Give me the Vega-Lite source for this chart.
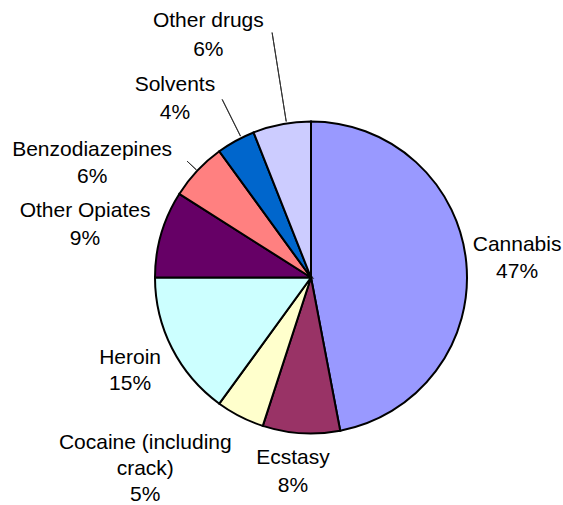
{
  "$schema": "https://vega.github.io/schema/vega-lite/v6.json",
  "description": "Share of drug types, pie chart with labels",
  "width": 504,
  "height": 455,
  "autosize": "none",
  "padding": {"left": 59, "top": 50, "right": 0, "bottom": 0},
  "background": "white",
  "config": {"view": {"stroke": null}},
  "data": {
    "values": [
      {"drug": "Cannabis", "share": 47},
      {"drug": "Ecstasy", "share": 8},
      {"drug": "Cocaine (including crack)", "share": 5},
      {"drug": "Heroin", "share": 15},
      {"drug": "Other Opiates", "share": 9},
      {"drug": "Benzodiazepines", "share": 6},
      {"drug": "Solvents", "share": 4},
      {"drug": "Other drugs", "share": 6}
    ]
  },
  "transform": [
    {"window": [{"op": "row_number", "as": "idx"}]},
    {"calculate": "replace(datum.drug, '(including ', '(including\\n') + '\\n' + datum.share + '%'", "as": "label"}
  ],
  "encoding": {
    "theta": {"field": "share", "type": "quantitative", "stack": true},
    "order": {"field": "idx", "type": "quantitative"}
  },
  "layer": [
    {
      "mark": {"type": "arc", "outerRadius": 156, "stroke": "#000", "strokeWidth": 2},
      "encoding": {
        "color": {
          "field": "drug",
          "type": "nominal",
          "legend": null,
          "scale": {
            "domain": ["Cannabis", "Ecstasy", "Cocaine (including crack)", "Heroin", "Other Opiates", "Benzodiazepines", "Solvents", "Other drugs"],
            "range": ["#9999FF", "#993366", "#FFFFCC", "#CCFFFF", "#660066", "#FF8080", "#0066CC", "#CCCCFF"]
          }
        }
      }
    },
    {
      "mark": {"type": "arc", "filled": false, "stroke": "#333", "strokeWidth": 1, "innerRadius": 158, "outerRadius": 248, "padAngle": 0.6, "thetaOffset": 0.031},
      "encoding": {"opacity": {"condition": {"test": "datum.drug === 'Other drugs'", "value": 1}, "value": 0}}
    },
    {
      "mark": {"type": "arc", "filled": false, "stroke": "#333", "strokeWidth": 1, "innerRadius": 158, "outerRadius": 199, "padAngle": 0.6, "thetaOffset": 0.04},
      "encoding": {"opacity": {"condition": {"test": "datum.drug === 'Solvents'", "value": 1}, "value": 0}}
    },
    {
      "mark": {"type": "arc", "filled": false, "stroke": "#333", "strokeWidth": 1, "innerRadius": 157, "outerRadius": 170, "padAngle": 0.6},
      "encoding": {"opacity": {"condition": {"test": "datum.drug === 'Benzodiazepines'", "value": 1}, "value": 0}}
    },
    {
      "mark": {"type": "text", "radius": 207, "dy": -13.5, "font": "Liberation Sans", "fontSize": 21, "lineHeight": 27, "lineBreak": "\n", "align": "center", "baseline": "middle", "color": "#000"},
      "encoding": {"text": {"condition": {"test": "datum.drug === 'Cannabis'", "field": "label"}, "value": ""}}
    },
    {
      "mark": {"type": "text", "radius": 195, "thetaOffset": 0.03, "dy": -13.5, "font": "Liberation Sans", "fontSize": 21, "lineHeight": 28, "lineBreak": "\n", "align": "center", "baseline": "middle", "color": "#000"},
      "encoding": {"text": {"condition": {"test": "datum.drug === 'Ecstasy'", "field": "label"}, "value": ""}}
    },
    {
      "mark": {"type": "text", "radius": 253, "thetaOffset": 0.243, "dy": -26, "font": "Liberation Sans", "fontSize": 21, "lineHeight": 26, "lineBreak": "\n", "align": "center", "baseline": "middle", "color": "#000"},
      "encoding": {"text": {"condition": {"test": "datum.drug === 'Cocaine (including crack)'", "field": "label"}, "value": ""}}
    },
    {
      "mark": {"type": "text", "radius": 203, "dy": -12, "font": "Liberation Sans", "fontSize": 21, "lineHeight": 26, "lineBreak": "\n", "align": "center", "baseline": "middle", "color": "#000"},
      "encoding": {"text": {"condition": {"test": "datum.drug === 'Heroin'", "field": "label"}, "value": ""}}
    },
    {
      "mark": {"type": "text", "radius": 232, "thetaOffset": -0.054, "dy": -13.5, "font": "Liberation Sans", "fontSize": 21, "lineHeight": 28, "lineBreak": "\n", "align": "center", "baseline": "middle", "color": "#000"},
      "encoding": {"text": {"condition": {"test": "datum.drug === 'Other Opiates'", "field": "label"}, "value": ""}}
    },
    {
      "mark": {"type": "text", "radius": 247, "thetaOffset": -0.272, "dy": -13.5, "font": "Liberation Sans", "fontSize": 21, "lineHeight": 27, "lineBreak": "\n", "align": "center", "baseline": "middle", "color": "#000"},
      "encoding": {"text": {"condition": {"test": "datum.drug === 'Benzodiazepines'", "field": "label"}, "value": ""}}
    },
    {
      "mark": {"type": "text", "radius": 225, "thetaOffset": -0.147, "dy": -13.5, "font": "Liberation Sans", "fontSize": 21, "lineHeight": 28, "lineBreak": "\n", "align": "center", "baseline": "middle", "color": "#000"},
      "encoding": {"text": {"condition": {"test": "datum.drug === 'Solvents'", "field": "label"}, "value": ""}}
    },
    {
      "mark": {"type": "text", "radius": 264, "thetaOffset": -0.211, "dy": -13.5, "font": "Liberation Sans", "fontSize": 21, "lineHeight": 29, "lineBreak": "\n", "align": "center", "baseline": "middle", "color": "#000"},
      "encoding": {"text": {"condition": {"test": "datum.drug === 'Other drugs'", "field": "label"}, "value": ""}}
    }
  ]
}
